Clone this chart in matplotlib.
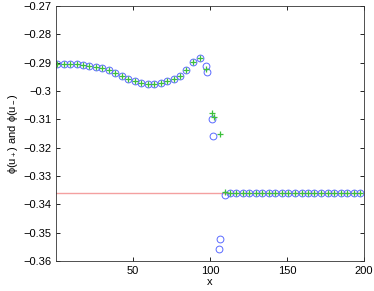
import matplotlib
matplotlib.use("Agg")
import matplotlib.pyplot as plt

plt.rcParams['font.family'] = ['Liberation Sans', 'DejaVu Sans']
plt.rcParams['mathtext.fontset'] = 'custom'
plt.rcParams['mathtext.rm'] = 'Liberation Sans'
plt.rcParams['mathtext.it'] = 'Liberation Sans'

# smooth part (both phi(u+) and phi(u-) coincide)
x_left = [0.7, 4.9, 9.1, 13.3, 17.5, 21.7, 25.9, 30.1, 34.3, 38.5, 42.7, 46.9,
          51.1, 55.3, 59.5, 63.7, 67.9, 72.1, 76.3, 80.5, 84.7, 88.9, 93.3]
y_left = [-0.2905, -0.2905, -0.2905, -0.2906, -0.2908, -0.2910, -0.2914, -0.2920,
          -0.2927, -0.2936, -0.2946, -0.2956, -0.2965, -0.2971, -0.2974, -0.2975,
          -0.2972, -0.2966, -0.2959, -0.2945, -0.2925, -0.2898, -0.2882]

# jump region, circles = phi(u_-), plus = phi(u_+)
x_circ_jump = [97.2, 98.2, 101.5, 102.1, 105.6, 106.7, 109.9]
y_circ_jump = [-0.2912, -0.2931, -0.3099, -0.3158, -0.3558, -0.3522, -0.3367]
x_plus_jump = [97.6, 101.5, 102.4, 106.7, 109.9]
y_plus_jump = [-0.2921, -0.3077, -0.3090, -0.3151, -0.3356]

# flat part
x_right = [112.9, 117.1, 121.4, 125.6, 129.8, 134.1, 138.3, 142.5, 146.8, 151.0,
           155.2, 159.5, 163.7, 167.9, 172.2, 176.4, 180.6, 184.9, 189.1, 193.3, 197.6]
flat_val = -0.3361
y_right = [flat_val] * len(x_right)

ref_x = [0, 197.6]
ref_y = [flat_val, flat_val]

xc = x_left + x_circ_jump + x_right
yc = y_left + y_circ_jump + y_right
xp = x_left + x_plus_jump + x_right
yp = y_left + y_plus_jump + y_right

fig = plt.figure(figsize=(3.74, 2.91), dpi=100)
ax = fig.add_axes([0.150, 0.103, 0.823, 0.876])

ax.plot(ref_x, ref_y, color='#f4a0a0', linewidth=1.0)
ax.plot(xc, yc, 'o', markerfacecolor='none', markeredgecolor='#5a6aff',
        markersize=4.9, markeredgewidth=0.7)
ax.plot(xp, yp, '+', color='#3cc03c', markersize=4.0, markeredgewidth=0.9)

ax.set_xlim(0, 200)
ax.set_ylim(-0.36, -0.27)
ax.set_xticks([50, 100, 150, 200])
ax.set_yticks([-0.36, -0.35, -0.34, -0.33, -0.32, -0.31, -0.30, -0.29, -0.28, -0.27])
ax.set_yticklabels(['\u22120.36', '\u22120.35', '\u22120.34', '\u22120.33', '\u22120.32',
                    '\u22120.31', '\u22120.3', '\u22120.29', '\u22120.28', '\u22120.27'])
ax.tick_params(direction='in', top=True, right=True, labelsize=8, length=3, width=0.6)
for s in ax.spines.values():
    s.set_linewidth(0.6)
    s.set_color('#333333')

ax.set_xlabel('x', fontsize=8, labelpad=1)
ax.set_ylabel(r'$\phi(u_+)$ and $\phi(u_-)$', fontsize=8, labelpad=2)

fig.savefig('out.png', dpi=100)
